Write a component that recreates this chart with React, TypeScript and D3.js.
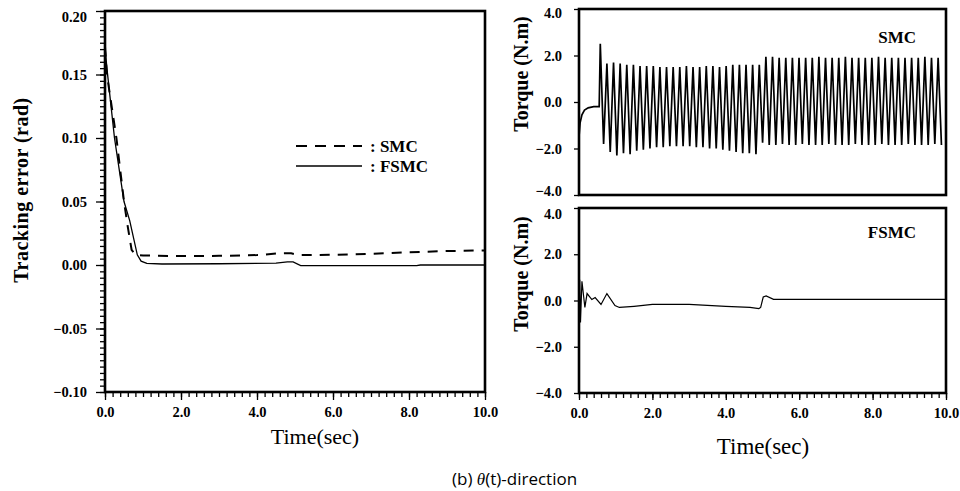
import { useEffect, useRef } from "react";
import * as d3 from "d3";

// tracking error (rad), left panel
const smcErrT = [0, 0.05, 0.15, 0.3, 0.5, 0.6, 0.7, 0.8, 1.0, 2.0, 3.0, 4.0, 4.6, 4.9, 5.1, 6.0, 7.0, 8.0, 9.0, 10.0];
const smcErrV = [0.172, 0.15, 0.13, 0.1, 0.05, 0.03, 0.012, 0.008, 0.0075, 0.007, 0.0072, 0.0078, 0.0092, 0.0092, 0.0078, 0.008, 0.0088, 0.01, 0.011, 0.0115];
const fsmcErrT = [0, 0.05, 0.25, 0.5, 0.65, 0.85, 0.95, 1.1, 1.5, 3.0, 4.5, 4.8, 4.95, 5.15, 8.2, 8.3, 10.0];
const fsmcErrV = [0.172, 0.155, 0.1, 0.05, 0.035, 0.008, 0.003, 0.0012, 0.0008, 0.001, 0.0015, 0.0025, 0.0025, -0.0005, -0.0005, 0, 0];

// SMC torque (N.m): start-up transient, then chattering peaks / troughs
const smcStartT = [0, 0.03, 0.08, 0.15, 0.25, 0.4, 0.55];
const smcStartV = [-1.5, -0.9, -0.55, -0.35, -0.25, -0.2, -0.2];
const chatterStart = 0.58;
const chatterPeriod = 0.1805;
const smcPeaks = [
  2.5, 1.65, 1.7, 1.65, 1.6, 1.6, 1.55, 1.55, 1.55, 1.5, 1.5, 1.5, 1.5, 1.55, 1.5, 1.5, 1.55, 1.55, 1.5, 1.55, 1.6, 1.6, 1.6, 1.6, 1.6,
  1.95, 1.95, 1.9, 1.9, 1.9, 1.9, 1.9, 1.9, 1.95, 1.9, 1.9, 1.9, 1.95, 1.9, 1.9, 1.9, 1.9, 1.95, 1.9, 1.9, 1.9, 1.9, 1.9, 1.9, 1.95, 1.9, 1.9,
];
const smcTroughs = [
  -1.8, -2.15, -2.3, -2.2, -2.25, -2.1, -2.05, -2.0, -1.95, -1.95, -1.9, -1.9, -1.9, -1.9, -1.95, -1.95, -2.0, -2.0, -2.05, -2.1, -2.15, -2.2, -2.2, -2.25, -1.75,
  -1.85, -1.85, -1.8, -1.85, -1.85, -1.8, -1.85, -1.85, -1.85, -1.8, -1.85, -1.85, -1.85, -1.8, -1.85, -1.85, -1.85, -1.8, -1.85, -1.85, -1.85, -1.8, -1.85, -1.85, -1.85, -1.8, -1.85,
];

// FSMC torque (N.m)
const fsmcTqT = [0, 0.02, 0.04, 0.08, 0.16, 0.22, 0.35, 0.44, 0.6, 0.76, 0.98, 1.1, 1.5, 2.0, 3.0, 4.0, 4.66, 4.9, 4.95, 5.02, 5.1, 5.3, 10.0];
const fsmcTqV = [0, 0.9, -0.95, 0.83, -0.3, 0.3, 0.04, 0.13, -0.17, 0.3, -0.22, -0.3, -0.25, -0.17, -0.17, -0.25, -0.3, -0.35, -0.3, 0.15, 0.2, 0.05, 0.05];

const timeTicks = [0, 2, 4, 6, 8, 10];
const errTicks = [-0.1, -0.05, 0, 0.05, 0.1, 0.15, 0.2];
const torqueTicks = [-4, -2, 0, 2, 4];

const SERIF = "'Liberation Serif', 'DejaVu Serif', serif";

const App = () => {
  const ref = useRef<SVGSVGElement | null>(null);

  useEffect(() => {
    const svg = d3.select(ref.current);
    svg.selectAll("*").remove();

    const line = (x: any, y: any) =>
      d3
        .line<[number, number]>()
        .x((d) => x(d[0]))
        .y((d) => y(d[1]));

    const frame = (x: any, y: any) => {
      const [x0, x1] = x.range();
      const [y0, y1] = y.range();
      svg
        .append("rect")
        .attr("x", x0)
        .attr("y", y1)
        .attr("width", x1 - x0)
        .attr("height", y0 - y1)
        .attr("fill", "none")
        .attr("stroke", "#000")
        .attr("stroke-width", 2.6);
    };

    const styleAxis = (g: any) => {
      g.select(".domain").remove();
      g.selectAll("line").attr("stroke", "#000").attr("stroke-width", 1.3);
      g.selectAll("text")
        .attr("fill", "#000")
        .style("font-family", SERIF)
        .style("font-weight", "bold")
        .style("font-size", "14.5px");
    };

    const minorTime = d3.range(0, 10.001, 0.2);

    // ---- left panel: tracking error
    const xL = d3.scaleLinear().domain([0, 10]).range([105, 485]);
    const yL = d3.scaleLinear().domain([-0.1, 0.2]).range([392, 11]);

    svg.append("g")
      .attr("transform", "translate(105,0)")
      .call(d3.axisLeft(yL).tickValues(d3.range(-0.1, 0.2001, 0.005)).tickSize(5).tickFormat(() => ""))
      .call(styleAxis);
    svg.append("g")
      .attr("transform", "translate(105,0)")
      .call(d3.axisLeft(yL).tickValues(errTicks).tickSize(9).tickPadding(9).tickFormat(d3.format(".2f")))
      .call(styleAxis)
      .selectAll("text")
      .attr("dy", (d: any) => (d === 0.2 ? "0.75em" : "0.32em"));
    svg.append("g")
      .attr("transform", "translate(0,392)")
      .call(d3.axisBottom(xL).tickValues(minorTime).tickSize(5).tickFormat(() => ""))
      .call(styleAxis);
    svg.append("g")
      .attr("transform", "translate(0,392)")
      .call(d3.axisBottom(xL).tickValues(timeTicks).tickSize(8).tickPadding(7).tickFormat(d3.format(".1f")))
      .call(styleAxis);

    svg.append("path")
      .attr("d", line(xL, yL)(smcErrT.map((t, i) => [t, smcErrV[i]]) as [number, number][]))
      .attr("fill", "none")
      .attr("stroke", "#000")
      .attr("stroke-width", 2)
      .attr("stroke-dasharray", "10,8");
    svg.append("path")
      .attr("d", line(xL, yL)(fsmcErrT.map((t, i) => [t, fsmcErrV[i]]) as [number, number][]))
      .attr("fill", "none")
      .attr("stroke", "#000")
      .attr("stroke-width", 1.3);
    frame(xL, yL);

    // legend
    svg.append("line").attr("x1", 296).attr("x2", 362).attr("y1", 146).attr("y2", 146)
      .attr("stroke", "#000").attr("stroke-width", 1.8).attr("stroke-dasharray", "11,8");
    svg.append("line").attr("x1", 296).attr("x2", 362).attr("y1", 166).attr("y2", 166)
      .attr("stroke", "#000").attr("stroke-width", 1.3);
    const legText = (y: number, s: string) =>
      svg.append("text").attr("x", 370).attr("y", y).text(s)
        .style("font-family", SERIF).style("font-weight", "bold").style("font-size", "17px");
    legText(152, ":  SMC");
    legText(172, ":  FSMC");

    svg.append("text")
      .attr("transform", "translate(28,190) rotate(-90)")
      .attr("text-anchor", "middle")
      .text("Tracking  error  (rad)")
      .style("font-family", SERIF)
      .style("font-weight", "bold")
      .style("letter-spacing", "0.5px")
      .style("font-size", "20px");
    svg.append("text")
      .attr("x", 315).attr("y", 444)
      .attr("text-anchor", "middle")
      .text("Time(sec)")
      .style("font-family", SERIF)
      .style("font-size", "22px");

    // ---- right panels: torque
    const xR = d3.scaleLinear().domain([0, 10]).range([579, 946]);
    const yT = d3.scaleLinear().domain([-4, 4]).range([195, 9]);
    const yB = d3.scaleLinear().domain([-4, 4]).range([393, 208]);

    svg.append("g")
      .attr("transform", "translate(579,0)")
      .call(d3.axisLeft(yT).tickValues(torqueTicks).tickSize(5).tickPadding(12).tickFormat(d3.format(".1f")))
      .call(styleAxis)
      .selectAll("text")
      .attr("dy", (d: any) => (d === -4 ? "0.05em" : d === 4 ? "0.6em" : "0.32em"));
    svg.append("g")
      .attr("transform", "translate(579,0)")
      .call(d3.axisLeft(yB).tickValues(torqueTicks).tickSize(5).tickPadding(12).tickFormat(d3.format(".1f")))
      .call(styleAxis)
      .selectAll("text")
      .attr("dy", (d: any) => (d === 4 ? "0.7em" : "0.32em"));
    svg.append("g")
      .attr("transform", "translate(0,393)")
      .call(d3.axisBottom(xR).tickValues(minorTime).tickSize(5).tickFormat(() => ""))
      .call(styleAxis);
    svg.append("g")
      .attr("transform", "translate(0,393)")
      .call(d3.axisBottom(xR).tickValues(timeTicks).tickSize(7).tickPadding(8).tickFormat(d3.format(".1f")))
      .call(styleAxis);

    // SMC torque: transient followed by chattering zigzag
    const smcPts: [number, number][] = smcStartT.map((t, i) => [t, smcStartV[i]]);
    smcPeaks.forEach((p, i) => {
      const t = chatterStart + i * chatterPeriod;
      smcPts.push([t, p]);
      const tt = t + chatterPeriod / 2;
      if (tt <= 10) smcPts.push([tt, smcTroughs[i]]);
    });
    const smcClipped = smcPts.filter((d) => d[0] <= 10);
    svg.append("path")
      .attr("d", line(xR, yT)(smcClipped))
      .attr("fill", "none")
      .attr("stroke", "#000")
      .attr("stroke-width", 1.7);
    frame(xR, yT);

    svg.append("path")
      .attr("d", line(xR, yB)(fsmcTqT.map((t, i) => [t, fsmcTqV[i]]) as [number, number][]))
      .attr("fill", "none")
      .attr("stroke", "#000")
      .attr("stroke-width", 1.2);
    frame(xR, yB);

    const label = (x: number, y: number, s: string) =>
      svg.append("text").attr("x", x).attr("y", y).attr("text-anchor", "end").text(s)
        .style("font-family", SERIF).style("font-weight", "bold").style("font-size", "17px");
    label(916, 43, "SMC");
    label(916, 238, "FSMC");

    [74, 274].forEach((cy) => {
      svg.append("text")
        .attr("transform", `translate(528,${cy}) rotate(-90)`)
        .attr("text-anchor", "middle")
        .text("Torque  (N.m)")
        .style("font-family", SERIF)
        .style("font-weight", "bold")
        .style("font-size", "20px");
    });
    svg.append("text")
      .attr("x", 763).attr("y", 454)
      .attr("text-anchor", "middle")
      .text("Time(sec)")
      .style("font-family", SERIF)
      .style("font-size", "23px");

    // caption
    const cap = svg.append("text")
      .attr("x", 452).attr("y", 485)
      .style("font-family", "'Open Sans', 'Noto Sans', sans-serif")
      .style("font-size", "17px");
    cap.append("tspan").text("(b)  ");
    cap.append("tspan").style("font-style", "italic").style("font-family", SERIF).text("θ");
    cap.append("tspan").text("(t)-direction");
  }, []);

  return (
    <svg
      ref={ref}
      width={960}
      height={491}
      style={{ position: "absolute", left: 0, top: 0, background: "#fff" }}
    />
  );
};

export default App;
